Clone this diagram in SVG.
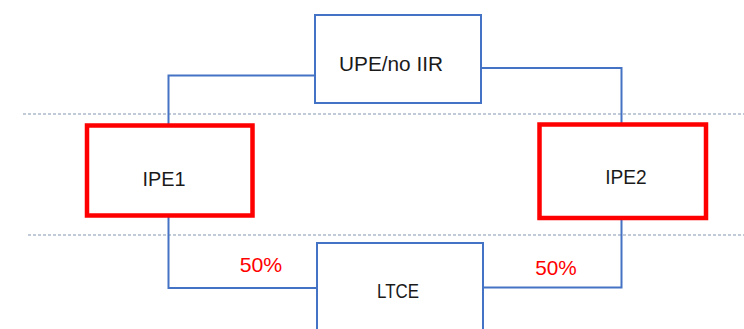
<svg xmlns="http://www.w3.org/2000/svg" width="744" height="329" viewBox="0 0 744 329">
  <style>
    .box { fill: #ffffff; stroke: #4472C4; stroke-width: 2; }
    .hot { fill: #ffffff; stroke: #FF0000; stroke-width: 4.5; }
    .wire { fill: none; stroke: #4472C4; stroke-width: 2; }
    .level { stroke: #8497B0; stroke-width: 1.2; stroke-dasharray: 3 2; }
    .label { font-family: "Liberation Sans", Arial, sans-serif; font-size: 21px; fill: #1a1a1a; text-anchor: middle; }
    .pct { font-family: "Liberation Sans", Arial, sans-serif; font-size: 21px; fill: #FF0000; text-anchor: middle; }
  </style>

  <!-- level separators -->
  <g id="levels">
    <line class="level" x1="23" y1="114" x2="744" y2="114"/>
    <line class="level" x1="28" y1="235" x2="744" y2="235"/>
  </g>

  <!-- connectors -->
  <g id="connectors">
    <polyline class="wire" points="315,75.5 168.5,75.5 168.5,125"/>
    <polyline class="wire" points="481,68 621.5,68 621.5,124"/>
    <polyline class="wire" points="168.5,216 168.5,288 317,288"/>
    <polyline class="wire" points="483,287.5 621.5,287.5 621.5,218"/>
  </g>

  <g id="upe">
    <rect class="box" x="315" y="15" width="166" height="88"/>
    <text class="label" x="391" y="71" textLength="104" lengthAdjust="spacingAndGlyphs">UPE/no IIR</text>
  </g>

  <g id="ipe1">
    <rect class="hot" x="87" y="125.5" width="165.5" height="90"/>
    <text class="label" x="164" y="186" textLength="43" lengthAdjust="spacingAndGlyphs">IPE1</text>
  </g>

  <g id="ipe2">
    <rect class="hot" x="539.5" y="124.5" width="166.5" height="93.5"/>
    <text class="label" x="626" y="184" textLength="41.5" lengthAdjust="spacingAndGlyphs">IPE2</text>
  </g>

  <g id="ltce">
    <rect class="box" x="317" y="243" width="166" height="100"/>
    <text class="label" x="398" y="298" textLength="42" lengthAdjust="spacingAndGlyphs">LTCE</text>
  </g>

  <g id="shares">
    <text class="pct" x="261" y="272" textLength="42.5" lengthAdjust="spacingAndGlyphs">50%</text>
    <text class="pct" x="556" y="274.5" textLength="41.5" lengthAdjust="spacingAndGlyphs">50%</text>
  </g>
</svg>
